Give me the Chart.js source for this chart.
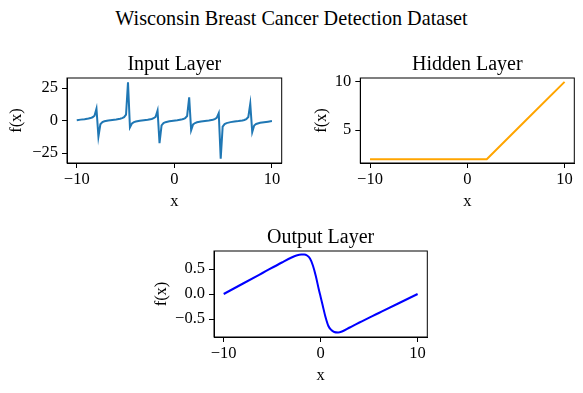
<!DOCTYPE html>
<html>
<head>
<meta charset="utf-8">
<title>Wisconsin Breast Cancer Detection Dataset</title>
<script src="https://cdn.jsdelivr.net/npm/chart.js@4.4.0/dist/chart.umd.min.js"></script>
<style>
  body { margin: 0; background: #fff; }
  #fig { position: relative; width: 583px; height: 393px; overflow: hidden; font-family: "Liberation Serif", "Times New Roman", serif; }
  #suptitle { position: absolute; left: 0; top: 6px; width: 583px; text-align: center; font-size: 20.2px; line-height: 24px; color: #000; }
  .panel { position: absolute; }
</style>
</head>
<body>
<div id="fig">
  <div id="suptitle">Wisconsin Breast Cancer Detection Dataset</div>
  <div class="panel" style="left:0px;top:53px;width:290px;height:160px"><canvas id="inputChart"></canvas></div>
  <div class="panel" style="left:300px;top:53px;width:283px;height:160px"><canvas id="hiddenChart"></canvas></div>
  <div class="panel" style="left:140px;top:226px;width:297px;height:161px"><canvas id="outputChart"></canvas></div>
</div>
<script>
// Datos
const xTicks = [-10, 0, 10];

const inputX = [-10, -9.6, -9.2, -8.8, -8.59, -8.38, -8.18, -7.98, -7.78, -7.58, -7.37, -7.17, -6.77, -6.36, -5.96, -5.56, -5.35, -5.15, -4.95, -4.75, -4.55, -4.34, -4.14, -3.94, -3.54, -3.13, -2.73, -2.32, -2.12, -1.92, -1.72, -1.52, -1.31, -1.11, -0.91, -0.51, -0.1, 0.3, 0.71, 0.91, 1.11, 1.31, 1.52, 1.72, 1.92, 2.12, 2.32, 2.73, 3.13, 3.54, 3.94, 4.14, 4.34, 4.55, 4.75, 4.95, 5.15, 5.35, 5.76, 6.16, 6.57, 6.97, 7.17, 7.37, 7.58, 7.78, 7.98, 8.18, 8.38, 8.79, 9.19, 9.6, 10];
const inputY = [0.35, 0.78, 1.15, 1.6, 1.97, 2.56, 3.74, 9.2, -12.3, -2.8, -1.16, -0.51, 0.15, 0.56, 0.93, 1.44, 1.88, 2.65, 4.61, 29.5, -5.2, -2.13, -1.14, -0.64, -0.07, 0.33, 0.71, 1.31, 1.85, 2.94, 7.8, -17.3, -3.6, -1.9, -1.2, -0.51, -0.09, 0.28, 0.79, 1.2, 1.9, 3.6, 18, -7.4, -2.94, -1.85, -1.31, -0.71, -0.33, 0.07, 0.64, 1.14, 2.13, 5.8, -29.3, -4.61, -2.65, -1.88, -1.15, -0.74, -0.36, 0.13, 0.51, 1.16, 2.8, 13, -8.8, -3.74, -2.56, -1.62, -1.16, -0.78, -0.35];
const inputYTicks = [-25, 0, 25];

const hiddenX = [-10, -6, -2, 2, 6, 10];
const hiddenY = [2, 2, 2, 2, 6, 10];
const hiddenYTicks = [5, 10];

const outputX = [-10, -8, -6, -4, -3, -2.5, -2, -1.7, -1.4, -1.1, -0.8, -0.5, -0.2, 0, 0.2, 0.5, 0.8, 1.1, 1.4, 1.8, 2.2, 3, 4, 6, 8, 10];
const outputY = [0, 0.21, 0.42, 0.63, 0.73, 0.77, 0.79, 0.79, 0.77, 0.71, 0.57, 0.36, 0.1, -0.06, -0.22, -0.46, -0.64, -0.72, -0.76, -0.77, -0.75, -0.67, -0.57, -0.38, -0.19, 0];
const outputYTicks = [-0.5, 0, 0.5];

Chart.defaults.font.family = '"Liberation Serif", "Times New Roman", serif';
Chart.defaults.color = '#000';

const minus = (s) => s.replace('-', '\u2212');
const fmtInt = (v) => minus(String(v));
const fmtOne = (v) => minus(v.toFixed(1));

// marco completo alrededor del área (como matplotlib)
const frame = {
    id: 'frame',
    afterDraw(chart) {
        const { ctx, chartArea: a } = chart;
        ctx.save();
        ctx.strokeStyle = '#000';
        ctx.lineWidth = 1;
        ctx.strokeRect(a.left, a.top, a.right - a.left, a.bottom - a.top);
        ctx.restore();
    }
};

const makeChart = (canvasId, cfg) => {
    const points = cfg.x.map((v, i) => ({ x: v, y: cfg.y[i] }));
    return new Chart(document.getElementById(canvasId), {
        type: 'line',
        data: {
            datasets: [{
                data: points,
                borderColor: cfg.color,
                borderWidth: 2,
                pointRadius: 0,
                fill: false,
                tension: cfg.smooth ? 0.4 : 0,
                cubicInterpolationMode: cfg.smooth ? 'monotone' : 'default'
            }]
        },
        options: {
            responsive: true,
            maintainAspectRatio: false,
            animation: false,
            layout: { padding: { right: cfg.padRight } },
            plugins: {
                legend: { display: false },
                tooltip: { enabled: false },
                title: {
                    display: true,
                    fullSize: false,
                    text: cfg.title,
                    color: '#000',
                    font: { size: 20, weight: 'normal' },
                    padding: { top: 0, bottom: 1 }
                }
            },
            scales: {
                x: {
                    type: 'linear',
                    min: -11,
                    max: 11,
                    afterBuildTicks: s => { s.ticks = xTicks.map(v => ({ value: v })); },
                    afterFit: s => { s.height = 50; },
                    ticks: { callback: fmtInt, color: '#000', font: { size: 16.5 }, padding: 1.8, maxRotation: 0 },
                    grid: { drawOnChartArea: false, tickLength: 5, color: '#000' },
                    border: { color: '#000' },
                    title: { display: true, text: 'x', color: '#000', font: { size: 16.5 }, padding: { top: 0, bottom: 1.8 } }
                },
                y: {
                    type: 'linear',
                    min: cfg.yMin,
                    max: cfg.yMax,
                    afterBuildTicks: s => { s.ticks = cfg.yTicks.map(v => ({ value: v })); },
                    afterFit: s => { s.width = cfg.yWidth; },
                    ticks: { callback: cfg.fmt, color: '#000', font: { size: 16.5 }, padding: 4 },
                    grid: { drawOnChartArea: false, tickLength: 5, color: '#000' },
                    border: { color: '#000' },
                    title: { display: true, text: 'f(x)', color: '#000', font: { size: 16.5 }, padding: { top: cfg.yTitlePad, bottom: 0 } }
                }
            }
        },
        plugins: [frame]
    });
};

makeChart('inputChart', {
    title: 'Input Layer', x: inputX, y: inputY, color: '#1f77b4',
    yMin: -32.6, yMax: 32.8, yTicks: inputYTicks, fmt: fmtInt,
    yWidth: 67, yTitlePad: 6.8, padRight: 8.3
});

makeChart('hiddenChart', {
    title: 'Hidden Layer', x: hiddenX, y: hiddenY, color: '#ffa500',
    yMin: 1.6, yMax: 10.4, yTicks: hiddenYTicks, fmt: fmtInt,
    yWidth: 60.3, yTitlePad: 11.8, padRight: 8.7
});

makeChart('outputChart', {
    title: 'Output Layer', x: outputX, y: outputY, color: '#0000ff', smooth: true,
    yMin: -0.86, yMax: 0.86, yTicks: outputYTicks, fmt: fmtOne,
    yWidth: 74, yTitlePad: 11.8, padRight: 9.7
});
</script>
</body>
</html>
